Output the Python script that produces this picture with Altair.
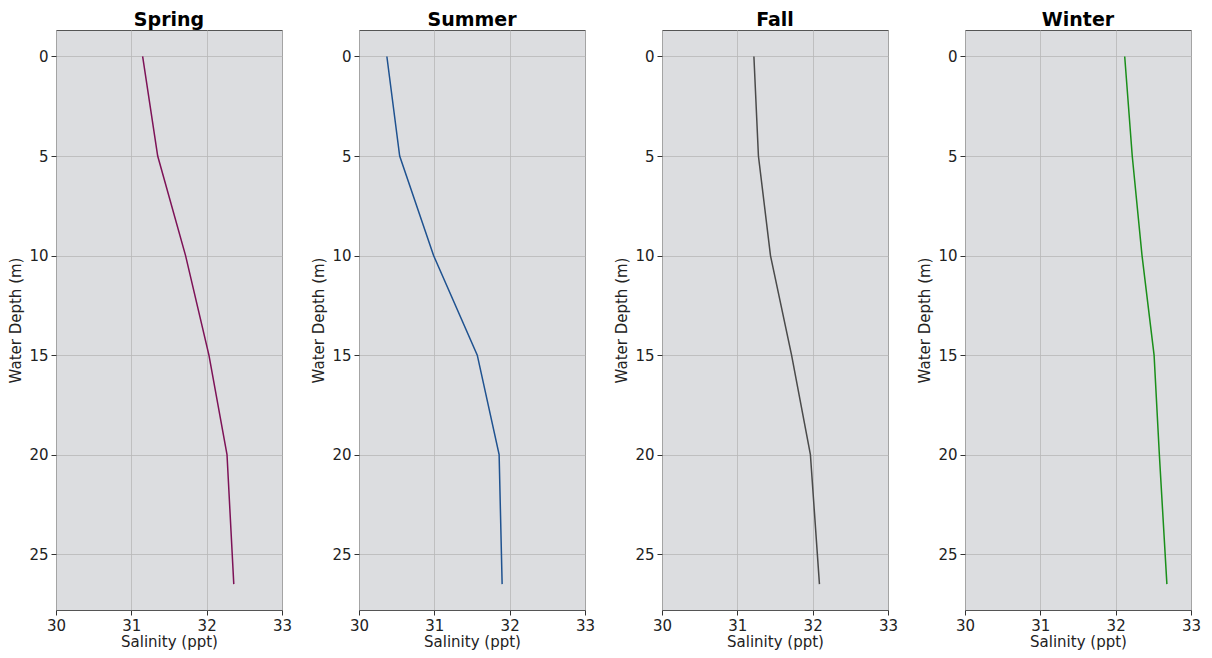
import altair as alt
import pandas as pd

seasons = ["Spring", "Summer", "Fall", "Winter"]
colors = ["#7d1257", "#1f5290", "#4a4a4a", "#1a8f1a"]
depths = [0, 5, 10, 15, 20, 26.5]
salinity = {
    "Spring": [31.15, 31.35, 31.72, 32.03, 32.27, 32.36],
    "Summer": [30.37, 30.54, 30.99, 31.57, 31.86, 31.90],
    "Fall":   [31.22, 31.28, 31.44, 31.72, 31.97, 32.09],
    "Winter": [32.12, 32.22, 32.35, 32.51, 32.58, 32.68],
}
x_ticks = [30, 31, 32, 33]
y_ticks = [0, 5, 10, 15, 20, 25]

FONT = "DejaVu Sans"

panels = []
for s, c in zip(seasons, colors):
    df = pd.DataFrame({"depth": depths, "sal": salinity[s]})
    ch = alt.Chart(df).mark_line(color=c, strokeWidth=1.5, clip=True).encode(
        x=alt.X("sal:Q", title="Salinity (ppt)",
                scale=alt.Scale(domain=[30, 33], nice=False, zero=False),
                axis=alt.Axis(values=x_ticks, format="d", labelFlush=False)),
        y=alt.Y("depth:Q", title="Water Depth (m)",
                scale=alt.Scale(domain=[-1.33, 27.8], nice=False, zero=False, reverse=True),
                axis=alt.Axis(values=y_ticks, format="d", labelFlush=False)),
        order="depth:Q",
    ).properties(
        width=226, height=580,
        title=alt.TitleParams(s, fontSize=19, fontWeight="bold", font=FONT, color="black", offset=0),
    )
    panels.append(ch)

chart = alt.hconcat(*panels, spacing=18).properties(
    padding={"left": 0, "top": 2, "right": 0, "bottom": 0}
).configure_view(
    fill="#dcdde0", stroke="#555555", strokeWidth=1
).configure_axis(
    labelFont=FONT, titleFont=FONT, labelFontSize=15, titleFontSize=15,
    labelColor="#222222", titleColor="#222222", titleFontWeight="normal",
    gridColor="#b8b8b8", gridOpacity=0.8, gridWidth=1,
    domain=False, tickColor="#333333", tickSize=5, labelPadding=3,
).configure_axisX(titlePadding=1, labelPadding=3).configure_axisY(titlePadding=5)

chart.save("out.html", embed_options={"renderer": "svg", "actions": False})
